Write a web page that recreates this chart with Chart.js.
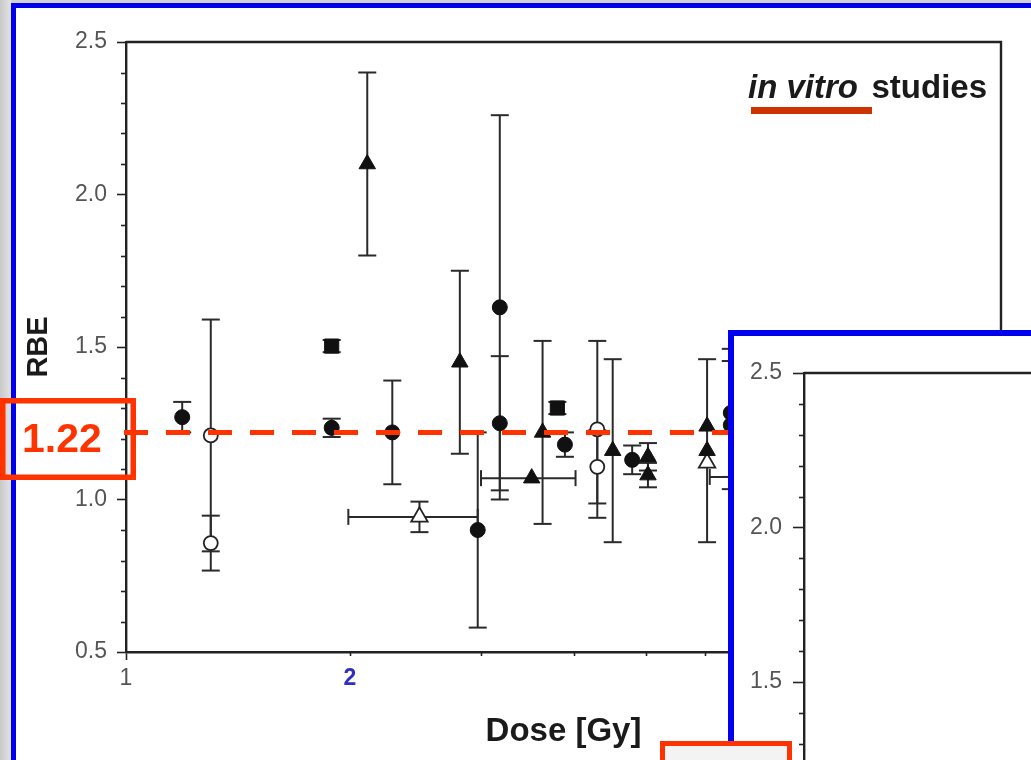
<!DOCTYPE html>
<html>
<head>
<meta charset="utf-8">
<title>RBE vs Dose</title>
<script src="https://cdn.jsdelivr.net/npm/chart.js@4.4.1/dist/chart.umd.min.js"></script>
<style>
  html, body { margin: 0; padding: 0; width: 1031px; height: 760px; overflow: hidden; background: #fff; }
  #main { position: absolute; left: 0; top: 0; }
  #inset { position: absolute; left: 728px; top: 330px; width: 400px; height: 700px;
           border: 6px solid #0000ee; background: #fff; overflow: hidden; }
  #tag { position: absolute; left: 660px; top: 741px; width: 132px; height: 40px;
         box-sizing: border-box; border: 5px solid #ff3300; background: #f3f3f3; }
</style>
</head>
<body>
<canvas id="main" width="1031" height="760"></canvas>
<div id="inset"><canvas id="inner" width="400" height="700"></canvas></div>
<div id="tag"></div>
<script>
// reference RBE value
const refRbe = 1.22;

// filled circles
const fcDose = [1.19, 1.89, 2.28, 2.97, 3.18, 3.18, 3.89, 4.79, 6.50, 6.50];
const fcRbe  = [1.27, 1.235, 1.22, 0.90, 1.63, 1.25, 1.18, 1.13, 1.284, 1.244];
const fcErr  = [0.05, 0.03, 0.17, 0.32, 0.63, 0.22, 0.04, 0.047, 0.21, 0.21];

// open circles
const ocDose = [1.30, 1.30, 4.30, 4.30];
const ocRbe  = [1.21, 0.857, 1.23, 1.107];
const ocErr  = [0.38, 0.09, 0.29, 0.12];

// filled triangles
const ftDose    = [2.11, 2.81, 3.51, 3.63, 4.51, 5.03, 5.03, 6.04, 6.04, 7.0];
const ftRbe     = [2.10, 1.45, 1.07, 1.22, 1.16, 1.14, 1.08, 1.24, 1.16, 1.074];
const ftErr     = [0.30, 0.30, 0, 0.30, 0.30, 0.045, 0.04, 0, 0.30, 0];
const ftDoseErr = [0, 0, 0.51, 0, 0, 0, 0, 0, 0, 0.91];

// open triangles
const otDose    = [2.48, 6.04];
const otRbe     = [0.943, 1.12];
const otErr     = [0.05, 0];
const otDoseErr = [0.49, 0];

// filled squares
const sqDose = [1.89, 3.80];
const sqRbe  = [1.503, 1.30];
const sqErr  = [0.02, 0.02];

// axis ticks
const doseTicks = [1, 2, 3, 4, 5, 6, 7, 8, 9, 10];
const doseLabels = { 1: '1', 2: '2' };

const FONT = "'Liberation Sans', Arial, Helvetica, sans-serif";
Chart.defaults.font.family = FONT;

function pts(xs, ys) {
  return xs.map((d, i) => ({ x: d, y: ys[i] }));
}

function isHalf(v) {
  return Math.abs(v * 2 - Math.round(v * 2)) < 1e-6;
}

// error bars (vertical on RBE, horizontal on dose)
const errorBars = {
  id: 'errorBars',
  beforeDatasetsDraw(chart) {
    const ctx = chart.ctx;
    const x = chart.scales.x, y = chart.scales.y;
    ctx.save();
    ctx.strokeStyle = '#2a2a2a';
    ctx.lineWidth = 2;
    const seg = (a, b, c, d) => { ctx.beginPath(); ctx.moveTo(a, b); ctx.lineTo(c, d); ctx.stroke(); };
    chart.data.datasets.forEach(ds => {
      ds.data.forEach((p, i) => {
        const px = x.getPixelForValue(p.x);
        const py = y.getPixelForValue(p.y);
        const ye = ds.rbeErr ? ds.rbeErr[i] : 0;
        const xe = ds.doseErr ? ds.doseErr[i] : 0;
        if (ye > 0) {
          const t = y.getPixelForValue(p.y + ye);
          const b = y.getPixelForValue(p.y - ye);
          seg(px, t, px, b);
          seg(px - 9, t, px + 9, t);
          seg(px - 9, b, px + 9, b);
        }
        if (xe > 0) {
          const l = x.getPixelForValue(p.x - xe);
          const r = x.getPixelForValue(p.x + xe);
          seg(l, py, r, py);
          seg(l, py - 8, l, py + 8);
          seg(r, py - 8, r, py + 8);
        }
      });
    });
    ctx.restore();
  }
};

// short minor ticks + top/right frame of the plot
const minorTicks = {
  id: 'minorTicks',
  afterDraw(chart) {
    const ctx = chart.ctx;
    const a = chart.chartArea;
    ctx.save();
    ctx.strokeStyle = '#222';
    ctx.lineWidth = 1.6;
    const y = chart.scales.y;
    y.ticks.forEach(t => {
      if (isHalf(t.value)) return;
      const py = Math.round(y.getPixelForValue(t.value)) + 0.5;
      ctx.beginPath(); ctx.moveTo(a.left - 5, py); ctx.lineTo(a.left, py); ctx.stroke();
    });
    const x = chart.scales.x;
    if (x && x.options.display !== false) {
      x.ticks.forEach(t => {
        if (t.value === 1 || t.value === 10) return;
        const px = Math.round(x.getPixelForValue(t.value)) + 0.5;
        ctx.beginPath(); ctx.moveTo(px, a.bottom); ctx.lineTo(px, a.bottom + 4); ctx.stroke();
      });
    }
    ctx.lineWidth = 2.4;
    ctx.beginPath();
    ctx.moveTo(a.left, a.top);
    ctx.lineTo(a.right, a.top);
    ctx.lineTo(a.right, a.bottom);
    ctx.stroke();
    ctx.restore();
  }
};

// slide background and blue frame
const slideFrame = {
  id: 'slideFrame',
  beforeDraw(chart) {
    const ctx = chart.ctx;
    const w = chart.width, h = chart.height;
    const g = ctx.createLinearGradient(0, 0, 11, 0);
    g.addColorStop(0, '#c9c9c9');
    g.addColorStop(1, '#e3e3e3');
    ctx.save();
    ctx.fillStyle = g;
    ctx.fillRect(0, 0, w, h);
    ctx.fillStyle = '#d2d2d2';
    ctx.fillRect(11, 0, w, 3);
    ctx.fillStyle = '#0000ee';
    ctx.fillRect(11, 3, w, h);
    ctx.fillStyle = '#fff';
    ctx.fillRect(16, 8, w, h);
    ctx.restore();
  }
};

// reference line, its label and the caption
const notes = {
  id: 'notes',
  afterDraw(chart) {
    const ctx = chart.ctx;
    const y = chart.scales.y;
    const py = y.getPixelForValue(refRbe);
    ctx.save();
    ctx.strokeStyle = '#ff3300';
    ctx.lineWidth = 5;
    ctx.setLineDash([24, 18]);
    ctx.beginPath(); ctx.moveTo(124, py); ctx.lineTo(740, py); ctx.stroke();
    ctx.setLineDash([]);

    ctx.lineWidth = 5.5;
    ctx.strokeRect(2.75, 400.75, 130.5, 76.5);
    ctx.fillStyle = '#ff3300';
    ctx.font = 'bold 41px ' + FONT;
    ctx.textBaseline = 'alphabetic';
    ctx.textAlign = 'left';
    ctx.fillText(refRbe.toFixed(2), 22, 452);

    ctx.fillStyle = '#1a1a1a';
    ctx.font = 'italic bold 33px ' + FONT;
    ctx.fillText('in vitro', 748, 98);
    ctx.font = 'bold 33px ' + FONT;
    ctx.textAlign = 'right';
    ctx.fillText('studies', 987, 98);

    ctx.fillStyle = '#cc3300';
    ctx.fillRect(751, 107, 121, 7);
    ctx.restore();
  }
};

new Chart(document.getElementById('main').getContext('2d'), {
  type: 'scatter',
  data: {
    datasets: [
      { label: 'filled circle', data: pts(fcDose, fcRbe), rbeErr: fcErr,
        pointStyle: 'circle', pointRadius: 7.5, backgroundColor: '#111', borderColor: '#111', borderWidth: 1 },
      { label: 'open circle', data: pts(ocDose, ocRbe), rbeErr: ocErr,
        pointStyle: 'circle', pointRadius: 7, backgroundColor: '#fff', borderColor: '#222', borderWidth: 1.8 },
      { label: 'filled triangle', data: pts(ftDose, ftRbe), rbeErr: ftErr, doseErr: ftDoseErr,
        pointStyle: 'triangle', pointRadius: 9.5, backgroundColor: '#111', borderColor: '#111', borderWidth: 1 },
      { label: 'open triangle', data: pts(otDose, otRbe), rbeErr: otErr, doseErr: otDoseErr,
        pointStyle: 'triangle', pointRadius: 9.5, backgroundColor: '#fff', borderColor: '#222', borderWidth: 1.8 },
      { label: 'filled square', data: pts(sqDose, sqRbe), rbeErr: sqErr,
        pointStyle: 'rect', pointRadius: 10, backgroundColor: '#111', borderColor: '#111', borderWidth: 1 }
    ]
  },
  options: {
    responsive: false,
    animation: false,
    layout: { padding: { top: 42, right: 30, left: 0, bottom: 0 } },
    plugins: { legend: { display: false }, tooltip: { enabled: false } },
    scales: {
      x: {
        type: 'logarithmic',
        min: 1,
        max: 15,
        afterBuildTicks: s => { s.ticks = doseTicks.map(v => ({ value: v })); },
        afterFit: s => { s.height = 108; },
        border: { display: true, color: '#222', width: 2.4 },
        grid: {
          drawOnChartArea: false,
          tickLength: 8,
          tickWidth: 1.6,
          tickColor: c => (c.tick && (c.tick.value === 1 || c.tick.value === 10)) ? '#222' : 'rgba(0,0,0,0)'
        },
        ticks: {
          autoSkip: false,
          maxRotation: 0,
          padding: 5,
          callback: v => doseLabels[v] || '',
          color: c => (c.tick && c.tick.value === 2) ? '#2f2fc4' : '#555',
          font: c => (c.tick && c.tick.value === 2) ? { size: 23, weight: 'bold' } : { size: 23 }
        },
        title: {
          display: true,
          text: 'Dose [Gy]',
          color: '#1a1a1a',
          font: { size: 33, weight: 'bold' },
          padding: { top: 0, bottom: 8 }
        }
      },
      y: {
        min: 0.5,
        max: 2.5,
        afterFit: s => { s.width = 126; },
        border: { display: true, color: '#222', width: 2.4 },
        grid: {
          drawOnChartArea: false,
          tickLength: 9,
          tickWidth: 1.6,
          tickColor: c => (c.tick && isHalf(c.tick.value)) ? '#222' : 'rgba(0,0,0,0)'
        },
        ticks: {
          stepSize: 0.1,
          autoSkip: false,
          padding: 10,
          color: '#555',
          font: { size: 23 },
          callback: v => isHalf(v) ? v.toFixed(1) : ''
        },
        title: {
          display: true,
          text: 'RBE',
          color: '#1a1a1a',
          font: { size: 29, weight: 'bold' },
          padding: { top: 22, bottom: 0 }
        }
      }
    }
  },
  plugins: [slideFrame, errorBars, minorTicks, notes]
});

// second panel, drawn on top of the right part of the slide
new Chart(document.getElementById('inner').getContext('2d'), {
  type: 'scatter',
  data: { datasets: [] },
  options: {
    responsive: false,
    animation: false,
    layout: { padding: { top: 37, right: 0, left: 0, bottom: 45 } },
    plugins: { legend: { display: false }, tooltip: { enabled: false } },
    scales: {
      x: { type: 'logarithmic', min: 1, max: 15, display: false },
      y: {
        min: 0.5,
        max: 2.5,
        afterFit: s => { s.width = 70; },
        border: { display: true, color: '#222', width: 2.4 },
        grid: {
          drawOnChartArea: false,
          tickLength: 11,
          tickWidth: 1.6,
          tickColor: c => (c.tick && isHalf(c.tick.value)) ? '#222' : 'rgba(0,0,0,0)'
        },
        ticks: {
          stepSize: 0.1,
          autoSkip: false,
          padding: 11,
          color: '#555',
          font: { size: 23 },
          callback: v => isHalf(v) ? v.toFixed(1) : ''
        }
      }
    }
  },
  plugins: [minorTicks]
});
</script>
</body>
</html>
